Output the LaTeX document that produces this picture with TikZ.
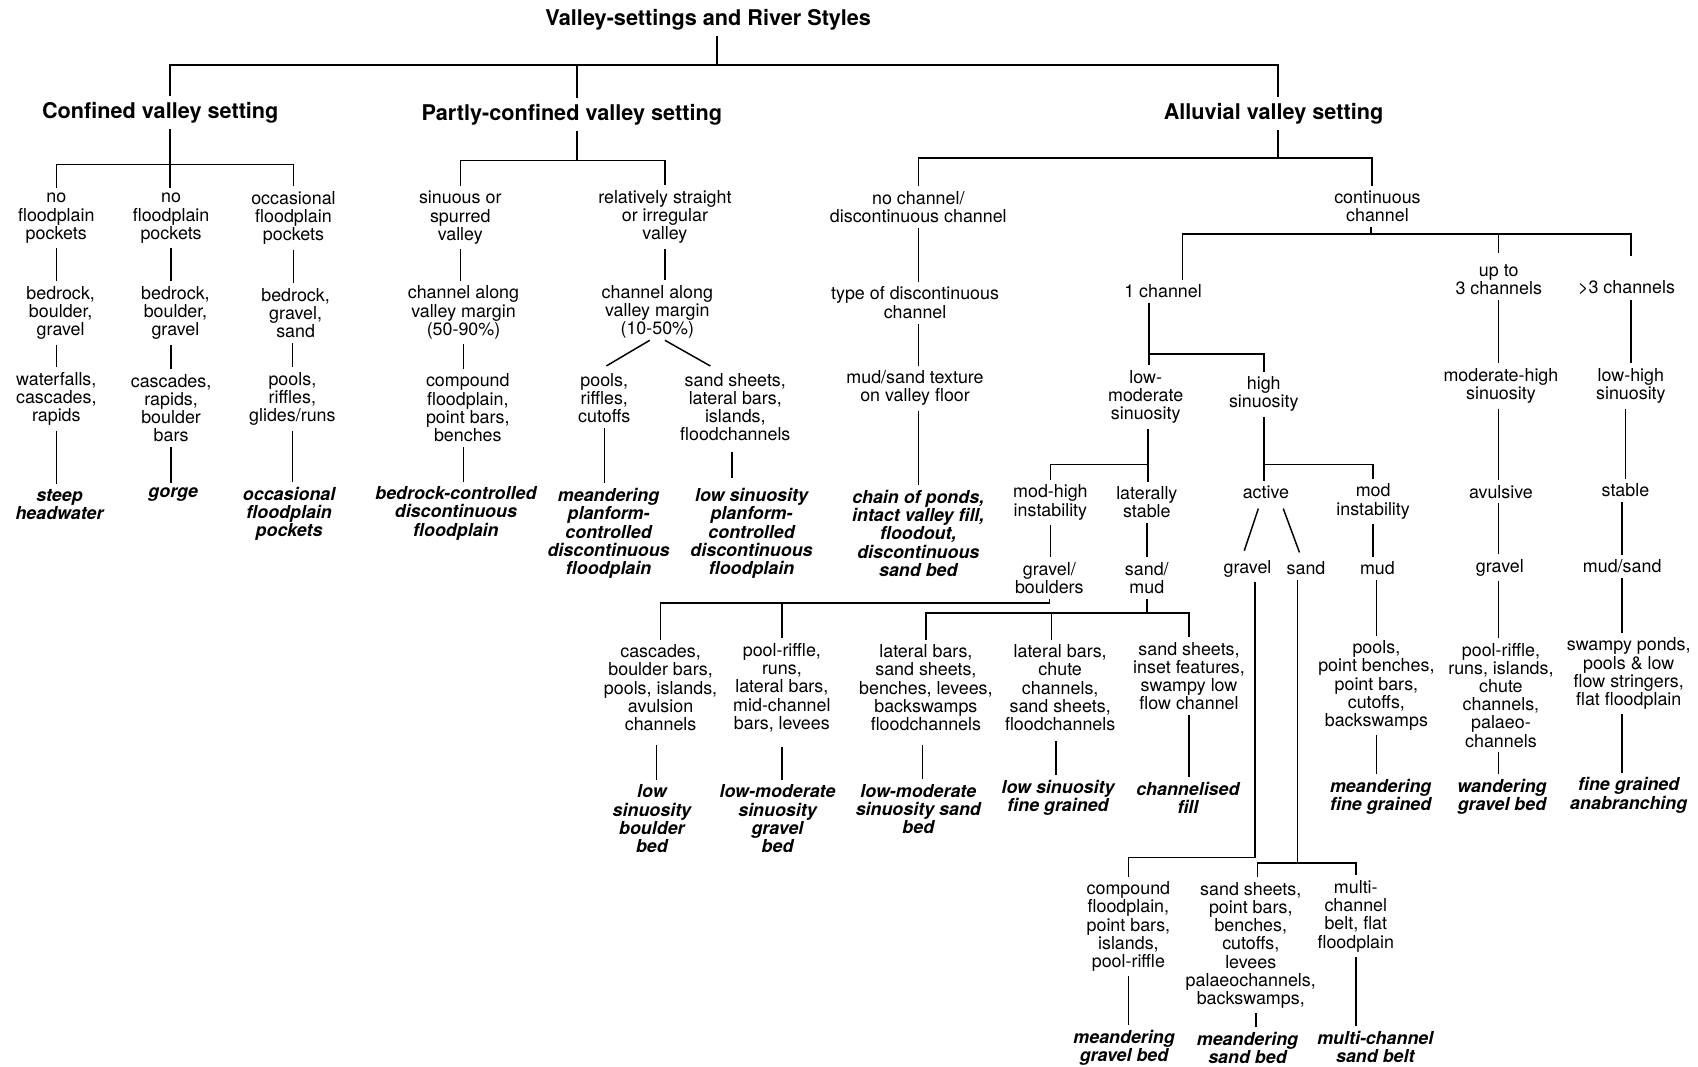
\documentclass[tikz,border=0pt]{standalone}
\usepackage{fontspec}
\setmainfont{TeX Gyre Heros}
\usetikzlibrary{calc}
\begin{document}
\begin{tikzpicture}[x=1pt,y=-1pt,line width=1.35pt,
  txt/.style={font=\fontsize{16.5}{16.8}\selectfont,align=center,inner sep=4pt},
  rs/.style={font=\fontsize{16.5}{16.8}\selectfont\bfseries\itshape,align=center,inner sep=4pt},
  head/.style={font=\fontsize{20}{22}\selectfont\bfseries,inner sep=5pt}]
\fill[white] (0,0) rectangle (1568,985);
\useasboundingbox (0,0) rectangle (1568,985);

% ---------- title and the three valley settings ----------
\node[head] (title) at (654,18) {Valley-settings and River Styles};
\node[head] (conf) at (148,104) {Confined valley setting};
\node[head] (part) at (528,106) {Partly-confined valley setting};
\node[head] (allu) at (1176,105) {Alluvial valley setting};

% ---------- confined ----------
\node[txt] (a1) at (52,201.5) {no\\floodplain\\pockets};
\node[txt] (a2) at (56,289) {bedrock,\\boulder,\\gravel};
\node[txt] (a3) at (52,368.5) {waterfalls,\\cascades,\\rapids};
\node[rs]  (a4) at (55,466) {steep\\headwater};
\node[txt] (b1) at (158,201.5) {no\\floodplain\\pockets};
\node[txt] (b2) at (162,289) {bedrock,\\boulder,\\gravel};
\node[txt] (b3) at (158,377) {cascades,\\rapids,\\boulder\\bars};
\node[rs]  (b4) at (160,457) {gorge};
\node[txt] (c1) at (271,201.5) {occasional\\floodplain\\pockets};
\node[txt] (c2) at (273,289) {bedrock,\\gravel,\\sand};
\node[txt] (c3) at (270,368.5) {pools,\\riffles,\\glides/runs};
\node[rs]  (c4) at (267,474.5) {occasional\\floodplain\\pockets};

% ---------- partly-confined ----------
\node[txt] (d1) at (425,201) {sinuous or\\spurred\\valley};
\node[txt] (d2) at (428,288.5) {channel along\\valley margin\\(50-90\%)};
\node[txt] (d3) at (432,376.5) {compound\\floodplain,\\point bars,\\benches};
\node[rs]  (d4) at (421,474) {bedrock-controlled\\discontinuous\\floodplain};
\node[txt] (e1) at (614,200.5) {relatively straight\\or irregular\\valley};
\node[txt] (e2) at (607,288) {channel along\\valley margin\\(10-50\%)};
\node[txt] (e3) at (558,367.5) {pools,\\riffles,\\cutoffs};
\node[txt] (e4) at (679,376) {sand sheets,\\lateral bars,\\islands,\\floodchannels};
\node[rs]  (e5) at (562,492.5) {meandering\\planform-\\controlled\\discontinuous\\floodplain};
\node[rs]  (e6) at (694,492.5) {low sinuosity\\planform-\\controlled\\discontinuous\\floodplain};

% ---------- alluvial: discontinuous channel ----------
\node[txt] (f1) at (848,191) {no channel/\\discontinuous channel};
\node[txt] (f2) at (845,279.5) {type of discontinuous\\channel};
\node[txt] (f3) at (845,358.5) {mud/sand texture\\on valley floor};
\node[rs]  (f4) at (848,492.5) {chain of ponds,\\intact valley fill,\\floodout,\\discontinuous\\sand bed};

% ---------- alluvial: continuous channel ----------
\node[txt] (g1) at (1272,190.5) {continuous\\channel};
\node[txt] (h1) at (1074,269) {1 channel};
\node[txt] (i1) at (1384,258) {up to\\3 channels};
\node[txt] (k1) at (1502,266) {>3 channels};
\node[txt] (h2) at (1058,366.5) {low-\\moderate\\sinuosity};
\node[txt] (h3) at (1167,364) {high\\sinuosity};
\node[txt] (m1) at (970,464) {mod-high\\instability};
\node[txt] (l1) at (1059,464) {laterally\\stable};
\node[txt] (m2) at (969,534) {gravel/\\boulders};
\node[txt] (l2) at (1059,534) {sand/\\mud};

\node[txt] (p1) at (610,635) {cascades,\\boulder bars,\\pools, islands,\\avulsion\\channels};
\node[rs]  (p2) at (602,756) {low\\sinuosity\\boulder\\bed};
\node[txt] (q1) at (722,635) {pool-riffle,\\runs,\\lateral bars,\\mid-channel\\bars, levees};
\node[rs]  (q2) at (718,756) {low-moderate\\sinuosity\\gravel\\bed};
\node[txt] (r1) at (855,635) {lateral bars,\\sand sheets,\\benches, levees,\\backswamps\\floodchannels};
\node[rs]  (r2) at (848,747) {low-moderate\\sinuosity sand\\bed};
\node[txt] (s1) at (979,635) {lateral bars,\\chute\\channels,\\sand sheets,\\floodchannels};
\node[rs]  (s2) at (977,737) {low sinuosity\\fine grained};
\node[txt] (t1) at (1098,624.5) {sand sheets,\\inset features,\\swampy low\\flow channel};
\node[rs]  (t2) at (1097,737) {channelised\\fill};

\node[txt] (act) at (1169,455) {active};
\node[txt] (mi) at (1268,463) {mod\\instability};
\node[txt] (gv) at (1152,525) {gravel};
\node[txt] (sd) at (1206,525) {sand};
\node[txt] (mud) at (1272,525) {mud};
\node[txt] (u1) at (1042,855.5) {compound\\floodplain,\\point bars,\\islands,\\pool-riffle};
\node[rs]  (u2) at (1038,967.5) {meandering\\gravel bed};
\node[txt] (v1) at (1155,873) {sand sheets,\\point bars,\\benches,\\cutoffs,\\levees\\palaeochannels,\\backswamps,};
\node[rs]  (v2) at (1152,967.5) {meandering\\sand bed};
\node[txt] (w1) at (1252,846) {multi-\\channel\\belt, flat\\floodplain};
\node[rs]  (w2) at (1270,966.5) {multi-channel\\sand belt};
\node[txt] (x1) at (1271,633) {pools,\\point benches,\\point bars,\\cutoffs,\\backswamps};
\node[rs]  (x2) at (1275,736) {meandering\\fine grained};

\node[txt] (y1) at (1386,356.5) {moderate-high\\sinuosity};
\node[txt] (y2) at (1386,454) {avulsive};
\node[txt] (y3) at (1385,524) {gravel};
\node[txt] (y4) at (1386,642) {pool-riffle,\\runs, islands,\\chute\\channels,\\palaeo-\\channels};
\node[rs]  (y5) at (1387,736) {wandering\\gravel bed};

\node[txt] (z1) at (1506,356.5) {low-high\\sinuosity};
\node[txt] (z2) at (1501,453) {stable};
\node[txt] (z3) at (1498,523) {mud/sand};
\node[txt] (z4) at (1504,622) {swampy ponds,\\pools \& low\\flow stringers,\\flat floodplain};
\node[rs]  (z5) at (1504,734.5) {fine grained\\anabranching};

% ---------- top-level tree ----------
\coordinate (tb) at (662,60);
\coordinate (tbL) at (157,60);
\coordinate (tbM) at (533,60);
\coordinate (tbR) at (1180,60);
\draw (title.south -| tb) -- (tb);
\draw (tbL |- conf.north) -- (tbL) -- (tbR) -- (tbR |- allu.north);
\draw (tbM) -- (tbM |- part.north);

% confined branches
\coordinate (cb) at (157,152);
\draw (cb |- conf.south) -- (cb);
\draw (a1.north) |- (cb) -| (c1.north);
\draw (cb) -- (cb |- b1.north);
\draw (a1.south) -- (a1.south |- a2.north);
\draw (a2.south -| a3.north) -- (a3.north);
\draw (a3.south) -- (a3.south |- a4.north);
\draw (b1.south) -- (b1.south |- b2.north);
\draw (b2.south -| b3.north) -- (b3.north);
\draw (b3.south) -- (b3.south |- b4.north);
\draw (c1.south) -- (c1.south |- c2.north);
\draw (c2.south -| c3.north) -- (c3.north);
\draw (c3.south) -- (c3.south |- c4.north);

% partly-confined branches
\coordinate (pb) at (533,148);
\draw (pb |- part.south) -- (pb);
\draw (d1.north) |- (pb) -| (e1.north);
\draw (d1.south) -- (d1.south |- d2.north);
\draw (d2.south) -- (d2.south |- d3.north);
\draw (d3.south -| d2.south) -- (d2.south |- d4.north);
\draw (e1.south) -- (e1.south |- e2.north);
\draw ($(e2.south)+(-7,-3)$) -- ($(e3.north)+(2,-2)$);
\draw ($(e2.south)+(7,-3)$) -- ($(e4.north)+(-23,-2)$);
\draw (e3.south) -- (e3.south |- e5.north);
\draw[shorten <=5pt,shorten >=5pt] ($(e4.south)+(-3,0)$) -- ($(e4.south |- e6.north)+(-3,0)$);

% alluvial branches
\coordinate (ab) at (1180,146);
\coordinate (abR) at (1267,146);
\draw (ab |- allu.south) -- (ab);
\draw (f1.north) |- (abR) -- (abR |- g1.north);
\draw (f1.south) -- (f1.south |- f2.north);
\draw (f2.south -| f1.south) -- (f1.south |- f3.north);
\draw (f3.south -| f4.north) -- (f4.north);

\coordinate (kb) at (1266,216);
\coordinate (kbL) at (1092,216);
\coordinate (kbR) at (1506,216);
\draw (kb |- g1.south) -- (kb);
\draw[shorten >=18pt] (kbL |- h1.north) -- (kbL) -- (kbR) -- (kbR |- k1.north);
\draw[shorten <=6pt] (i1.north) -- (i1.north |- kb);

% single channel
\coordinate (ob) at (1061,327);
\draw (h1.south -| ob) -- (ob |- h2.north);
\draw (ob) -| (h3.north);
\coordinate (lb) at (1060,429);
\draw (h2.south -| lb) -- (lb |- l1.north);
\draw (lb) -| (m1.north);
\draw (m1.south) -- (m1.south |- m2.north);
\draw (l1.south) -- (l1.south |- l2.north);

\coordinate (gb) at (969,557);
\draw (m2.south -| gb) -- (gb) -| (p1.north);
\draw (q1.north) -- (q1.north |- gb);
\coordinate (sb) at (1059,566);
\draw (l2.south -| sb) -- (sb);
\draw (r1.north) |- (sb) -| (t1.north);
\draw ($(s1.north)+(-8,0)$) -- ($(s1.north |- sb)+(-8,0)$);

\draw[shorten <=9pt] ($(p1.south)+(-4,0)$) -- ($(p1.south |- p2.north)+(-4,0)$);
\draw[shorten <=9pt] (q1.south) -- (q1.south |- q2.north);
\draw[shorten <=9pt] ($(r1.south)+(-3,0)$) -- ($(r1.south |- r2.north)+(-3,0)$);
\draw[shorten <=5pt] ($(s1.south)+(-4,0)$) -- ($(s1.south |- s2.north)+(-4,0)$);
\draw (t1.south) -- (t1.south |- t2.north);

% high sinuosity
\coordinate (hb) at (1167,429);
\draw (h3.south -| hb) -- (hb |- act.north);
\draw (hb) -| (mi.north);
\draw ($(act.south)+(-7,4)$) -- ($(gv.north)+(-3,-4)$);
\draw ($(act.south)+(16,4)$) -- ($(sd.north)+(-6,-4)$);
\draw (mi.south) -- (mi.south |- mud.north);
\draw (mud.south -| x1.north) -- (x1.north);
\draw (x1.south) -- (x1.south |- x2.north);

\coordinate (gvb) at (1159,792);
\draw (gv.south -| gvb) -- (gvb) -| (u1.north);
\coordinate (sdb) at (1198,797);
\draw (sd.south -| sdb) -- (sdb);
\draw ($(v1.north)+(6,0)$) |- (sdb) -| (w1.north);
\draw (u1.south) -- (u1.south |- u2.north);
\draw ($(v1.south)+(5,0)$) -- ($(v1.south |- v2.north)+(5,0)$);
\draw (w1.south) -- (w1.south |- w2.north);

% up to three channels
\draw (i1.south) -- (i1.south |- y1.north);
\draw (y1.south -| i1.south) -- (i1.south |- y2.north);
\draw (y2.south -| i1.south) -- (i1.south |- y3.north);
\draw (y3.south -| i1.south) -- (i1.south |- y4.north);
\draw (y4.south -| i1.south) -- (i1.south |- y5.north);

% more than three channels
\draw (kbR |- k1.south) -- (kbR |- z1.north);
\draw (z1.south -| z2.north) -- (z2.north);
\draw (z2.south -| z3.north) -- (z3.north);
\draw (z3.south) -- (z3.south |- z4.north);
\draw (z4.south -| z3.south) -- (z3.south |- z5.north);
\end{tikzpicture}
\end{document}
